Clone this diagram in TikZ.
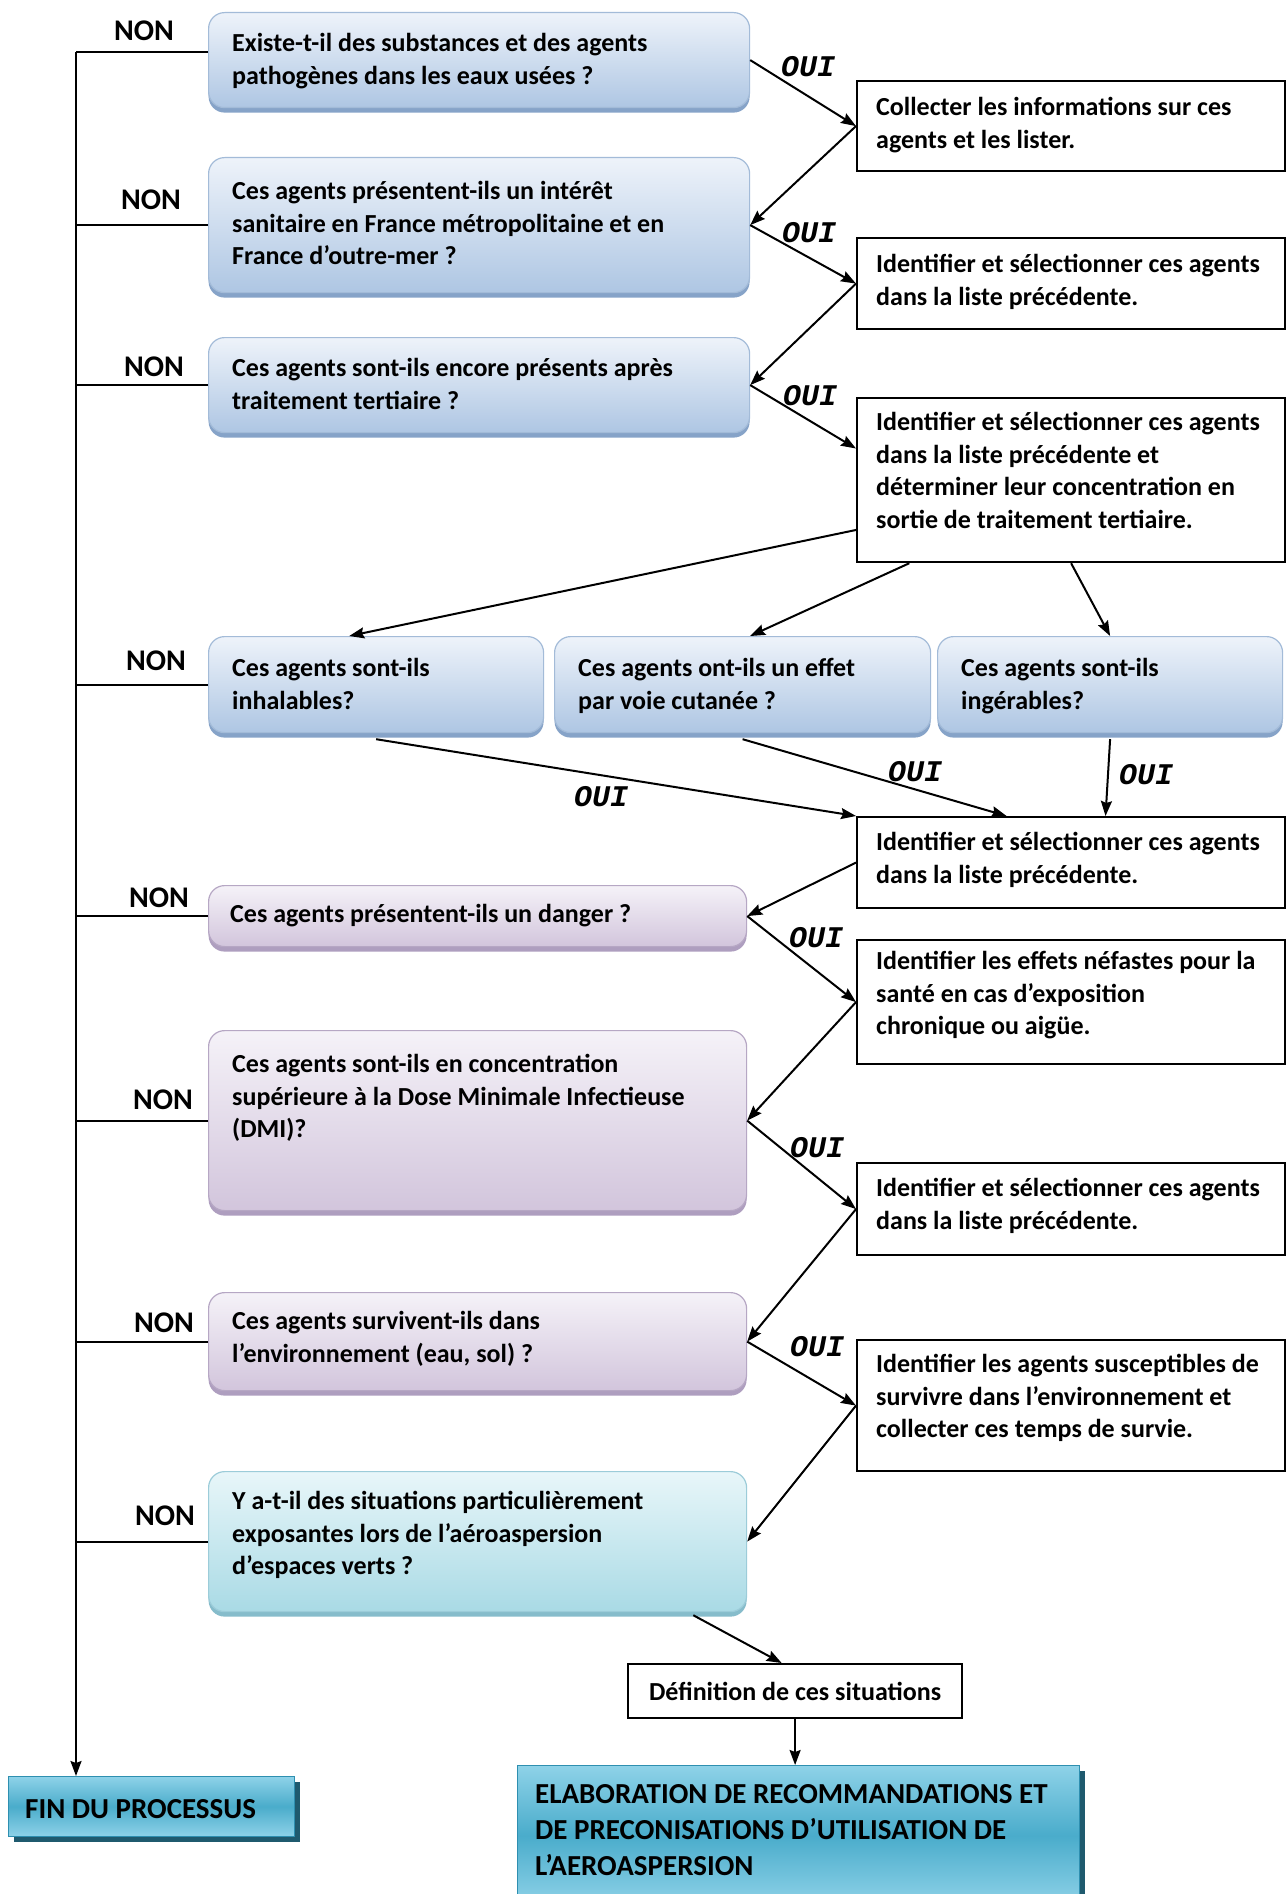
\documentclass[tikz,border=0pt]{standalone}
\usepackage{fontspec}
\setmainfont{Carlito}
\newfontfamily\ouifam{Liberation Mono}
\usetikzlibrary{arrows.meta,calc,shadows}
\definecolor{bTop}{HTML}{EEF3FA}
\definecolor{bBot}{HTML}{AEC6E3}
\definecolor{bBorder}{HTML}{A3BBD8}
\definecolor{bShadow}{HTML}{86A3C8}
\definecolor{pTop}{HTML}{F5F2F8}
\definecolor{pBot}{HTML}{D2C5DC}
\definecolor{pBorder}{HTML}{B6A7C4}
\definecolor{pShadow}{HTML}{AE9EBF}
\definecolor{cTop}{HTML}{E8F6F9}
\definecolor{cBot}{HTML}{A9DAE5}
\definecolor{cBorder}{HTML}{9CCCD9}
\definecolor{cShadow}{HTML}{86BCCB}
\definecolor{tMid}{HTML}{4AACCB}
\definecolor{tEdge}{HTML}{8ED2E8}
\definecolor{tBorder}{HTML}{2E8FB0}
\definecolor{tShadow}{HTML}{1F5A6E}
\newcommand\mytxtfont{\fontsize{26}{32.5}\selectfont\bfseries}
\newcommand\mybigfont{\fontsize{29}{36}\selectfont\bfseries}
\begin{document}
\begin{tikzpicture}[x=1pt,y=-1pt,
  qbox/.style={anchor=north west, inner sep=0pt, rounded corners=16pt, line width=1.2pt},
  bluebox/.style={qbox, draw=bBorder, top color=bTop, bottom color=bBot,
    drop shadow={shadow xshift=0pt, shadow yshift=-5pt, fill=bShadow, opacity=1}},
  purplebox/.style={qbox, draw=pBorder, top color=pTop, bottom color=pBot,
    drop shadow={shadow xshift=0pt, shadow yshift=-5pt, fill=pShadow, opacity=1}},
  cyanbox/.style={qbox, draw=cBorder, top color=cTop, bottom color=cBot,
    drop shadow={shadow xshift=0pt, shadow yshift=-5pt, fill=cShadow, opacity=1}},
  tealbox/.style={anchor=north west, inner sep=0pt, draw=tBorder, line width=1pt,
    top color=tEdge, bottom color=tEdge, middle color=tMid,
    drop shadow={shadow xshift=5pt, shadow yshift=-5pt, fill=tShadow, opacity=1}},
  rbox/.style={anchor=north west, inner sep=0pt, draw=black, fill=white, line width=2.2pt},
  txt/.style={anchor=north west, inner sep=0pt, align=left, font=\mytxtfont},
  nonlbl/.style={inner sep=0pt, font=\fontsize{30}{30}\selectfont\bfseries},
  ouilbl/.style={inner sep=0pt, font=\fontsize{30}{30}\selectfont\ouifam\bfseries\itshape},
  conn/.style={line width=2pt, draw=black},
  arr/.style={conn, -{Stealth[length=15pt,width=11pt,inset=2pt]}}
]
\useasboundingbox[fill=white] (0,0) rectangle (1286,1894);

% question boxes
\node[bluebox, minimum width=541pt, minimum height=95pt] (q1) at (208,12) {};
\node[bluebox, minimum width=541pt, minimum height=135pt] (q2) at (208,157) {};
\node[bluebox, minimum width=541pt, minimum height=95pt] (q3) at (208,337) {};
\node[bluebox, minimum width=335pt, minimum height=96pt] (qa) at (208,636) {};
\node[bluebox, minimum width=376pt, minimum height=96pt] (qb) at (554,636) {};
\node[bluebox, minimum width=345pt, minimum height=96pt] (qc) at (937,636) {};
\node[purplebox, minimum width=538pt, minimum height=61pt] (q5) at (208,885) {};
\node[purplebox, minimum width=538pt, minimum height=180pt] (q6) at (208,1030) {};
\node[purplebox, minimum width=538pt, minimum height=98pt] (q7) at (208,1292) {};
\node[cyanbox, minimum width=538pt, minimum height=140pt] (q8) at (208,1471) {};

\node[txt] (q1t) at ($(q1.north west)+(24,17)$) {\strut Existe-t-il des substances et des agents\\pathogènes dans les eaux usées ?};
\node[txt] (q2t) at ($(q2.north west)+(24,20)$) {\strut Ces agents présentent-ils un intérêt\\sanitaire en France métropolitaine et en\\France d’outre-mer ?};
\node[txt] (q3t) at ($(q3.north west)+(24,17)$) {\strut Ces agents sont-ils encore présents après\\traitement tertiaire ?};
\node[txt] (qat) at ($(qa.north west)+(24,18)$) {\strut Ces agents sont-ils\\inhalables?};
\node[txt] (qbt) at ($(qb.north west)+(24,18)$) {\strut Ces agents ont-ils un effet\\par voie cutanée ?};
\node[txt] (qct) at ($(qc.north west)+(24,18)$) {\strut Ces agents sont-ils\\ingérables?};
\node[txt] (q5t) at ($(q5.north west)+(22,15)$) {\strut Ces agents présentent-ils un danger ?};
\node[txt] (q6t) at ($(q6.north west)+(24,20)$) {\strut Ces agents sont-ils en concentration\\supérieure à la Dose Minimale Infectieuse\\(DMI)?};
\node[txt] (q7t) at ($(q7.north west)+(24,15)$) {\strut Ces agents survivent-ils dans\\l’environnement (eau, sol) ?};
\node[txt] (q8t) at ($(q8.north west)+(24,16)$) {\strut Y a-t-il des situations particulièrement\\exposantes lors de l’aéroaspersion\\d’espaces verts ?};

% right boxes
\node[rbox, minimum width=428pt, minimum height=90pt] (r1) at (856,80) {};
\node[rbox, minimum width=428pt, minimum height=91pt] (r2) at (856,237) {};
\node[rbox, minimum width=428pt, minimum height=164pt] (r3) at (856,397) {};
\node[rbox, minimum width=428pt, minimum height=91pt] (r4) at (856,816) {};
\node[rbox, minimum width=428pt, minimum height=124pt] (r5) at (856,939) {};
\node[rbox, minimum width=428pt, minimum height=92pt] (r6) at (856,1162) {};
\node[rbox, minimum width=428pt, minimum height=131pt] (r7) at (856,1339) {};

\node[txt] (r1t) at ($(r1.north west)+(20,13)$) {\strut Collecter les informations sur ces\\agents et les lister.};
\node[txt] (r2t) at ($(r2.north west)+(20,13)$) {\strut Identifier et sélectionner ces agents\\dans la liste précédente.};
\node[txt] (r3t) at ($(r3.north west)+(20,11)$) {\strut Identifier et sélectionner ces agents\\dans la liste précédente et\\déterminer leur concentration en\\sortie de traitement tertiaire.};
\node[txt] (r4t) at ($(r4.north west)+(20,12)$) {\strut Identifier et sélectionner ces agents\\dans la liste précédente.};
\node[txt] (r5t) at ($(r5.north west)+(20,8)$) {\strut Identifier les effets néfastes pour la\\santé en cas d’exposition\\chronique ou aigüe.};
\node[txt] (r6t) at ($(r6.north west)+(20,12)$) {\strut Identifier et sélectionner ces agents\\dans la liste précédente.};
\node[txt] (r7t) at ($(r7.north west)+(20,11)$) {\strut Identifier les agents susceptibles de\\survivre dans l’environnement et\\collecter ces temps de survie.};

% bottom boxes
\node[rbox, minimum width=334pt, minimum height=54pt, font=\mytxtfont] (def) at (627,1663) {Définition de ces situations};
\node[tealbox, minimum width=286pt, minimum height=60pt] (fin) at (8,1776) {};
\node[anchor=base west, inner sep=0pt, font=\mybigfont] (fint) at ($(fin.west)+(17,12)$) {FIN DU PROCESSUS};
\node[tealbox, minimum width=562pt, minimum height=140pt] (elab) at (517,1765) {};
\node[anchor=north west, inner sep=0pt, align=left, font=\mybigfont] (elabt) at ($(elab.north west)+(18,13)$) {\strut ELABORATION DE RECOMMANDATIONS ET\\DE PRECONISATIONS D’UTILISATION DE\\L’AEROASPERSION};

% NON side line
\coordinate (ltop) at (76,52);
\draw[conn] (q1.west |- ltop) -- (ltop);
\draw[conn] (q2.west) -- (q2.west -| ltop);
\draw[conn] (q3.west) -- (q3.west -| ltop);
\draw[conn] (qa.west) -- (qa.west -| ltop);
\draw[conn] (q5.west) -- (q5.west -| ltop);
\draw[conn] (q6.west) -- (q6.west -| ltop);
\draw[conn] (q7.west) -- (q7.west -| ltop);
\draw[conn] (q8.west) -- (q8.west -| ltop);
\draw[arr] (ltop) -- (ltop |- fin.north);

\node[nonlbl] (non1) at (144,31) {NON};
\node[nonlbl] (non2) at (151,200) {NON};
\node[nonlbl] (non3) at (154,367) {NON};
\node[nonlbl] (non4) at (156,661) {NON};
\node[nonlbl] (non5) at (159,898) {NON};
\node[nonlbl] (non6) at (163,1100) {NON};
\node[nonlbl] (non7) at (164,1323) {NON};
\node[nonlbl] (non8) at (165,1516) {NON};

% OUI flow
\draw[arr] (q1.east) -- (r1.west);
\draw[arr] (r1.west) -- (q2.east);
\draw[arr] (q2.east) -- (r2.west);
\draw[arr] (r2.west) -- (q3.east);
\draw[arr] (q3.east) -- ($(r3.north west)!0.31!(r3.south west)$);
\draw[arr] ($(r3.north west)!0.8!(r3.south west)$) -- ($(qa.north west)!0.42!(qa.north east)$);
\draw[arr] ($(r3.south west)!0.124!(r3.south east)$) -- ($(qb.north west)!0.52!(qb.north east)$);
\draw[arr] (r3.south) -- (qc.north);
\draw[arr] ($(qa.south)+(0,6)$) -- (r4.north west);
\draw[arr] ($(qb.south)+(0,6)$) -- ($(r4.north west)!0.35!(r4.north east)$);
\draw[arr] ($(qc.south)+(0,6)$) -- ($(r4.north west)!0.58!(r4.north east)$);
\draw[arr] (r4.west) -- (q5.east);
\draw[arr] (q5.east) -- (r5.west);
\draw[arr] (r5.west) -- (q6.east);
\draw[arr] (q6.east) -- (r6.west);
\draw[arr] (r6.west) -- (q7.east);
\draw[arr] (q7.east) -- (r7.west);
\draw[arr] (r7.west) -- (q8.east);
\draw[arr] ($(q8.south west)!0.9!(q8.south east)+(0,3)$) -- ($(def.north west)!0.46!(def.north east)$);
\draw[arr] (def.south) -- (def.south |- elab.north);

\node[ouilbl] (oui1) at (808,67) {OUI};
\node[ouilbl] (oui2) at (809,233) {OUI};
\node[ouilbl] (oui3) at (810,396) {OUI};
\node[ouilbl] (oui4) at (601,797) {OUI};
\node[ouilbl] (oui5) at (915,772) {OUI};
\node[ouilbl] (oui6) at (1146,775) {OUI};
\node[ouilbl] (oui7) at (816,938) {OUI};
\node[ouilbl] (oui8) at (817,1148) {OUI};
\node[ouilbl] (oui9) at (817,1347) {OUI};
\end{tikzpicture}
\end{document}
